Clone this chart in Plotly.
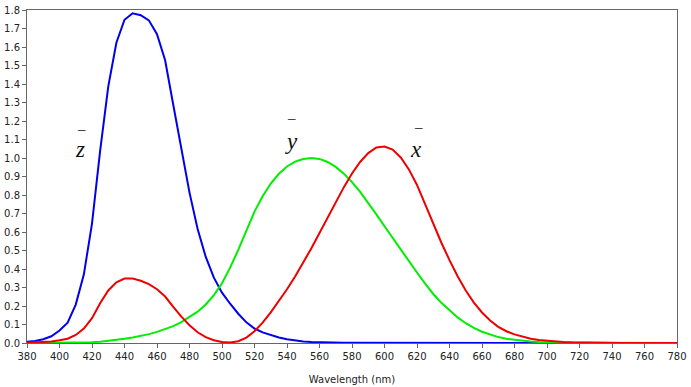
import plotly.graph_objects as go

wavelength = list(range(380, 785, 5))

x_bar = [0.001368, 0.002236, 0.004243, 0.007650, 0.014310, 0.023190, 0.043510, 0.077630,
         0.134380, 0.214770, 0.283900, 0.328500, 0.348280, 0.348060, 0.336200, 0.318700,
         0.290800, 0.251100, 0.195360, 0.142100, 0.095640, 0.057950, 0.032010, 0.014700,
         0.004900, 0.002400, 0.009300, 0.029100, 0.063270, 0.109600, 0.165500, 0.225750,
         0.290400, 0.359700, 0.433450, 0.512050, 0.594500, 0.678400, 0.762100, 0.842500,
         0.916300, 0.978600, 1.026300, 1.056700, 1.062200, 1.045600, 1.002600, 0.938400,
         0.854450, 0.751400, 0.642400, 0.541900, 0.447900, 0.360800, 0.283500, 0.218700,
         0.164900, 0.121200, 0.087400, 0.063600, 0.046770, 0.032900, 0.022700, 0.015840,
         0.011359, 0.008111, 0.005790, 0.004109, 0.002899, 0.002049, 0.001440, 0.001000,
         0.000690, 0.000476, 0.000332, 0.000235, 0.000166, 0.000117, 0.000083, 0.000059,
         0.000042]

y_bar = [0.000039, 0.000064, 0.000120, 0.000217, 0.000396, 0.000640, 0.001210, 0.002180,
         0.004000, 0.007300, 0.011600, 0.016840, 0.023000, 0.029800, 0.038000, 0.048000,
         0.060000, 0.073900, 0.090980, 0.112600, 0.139020, 0.169300, 0.208020, 0.258600,
         0.323000, 0.407300, 0.503000, 0.608200, 0.710000, 0.793200, 0.862000, 0.914850,
         0.954000, 0.980300, 0.994950, 1.000000, 0.995000, 0.978600, 0.952000, 0.915400,
         0.870000, 0.816300, 0.757000, 0.694900, 0.631000, 0.566800, 0.503000, 0.441200,
         0.381000, 0.321000, 0.265000, 0.217000, 0.175000, 0.138200, 0.107000, 0.081600,
         0.061000, 0.044580, 0.032000, 0.023200, 0.017000, 0.011920, 0.008210, 0.005723,
         0.004102, 0.002929, 0.002091, 0.001484, 0.001047, 0.000740, 0.000520, 0.000361,
         0.000249, 0.000172, 0.000120, 0.000085, 0.000060, 0.000042, 0.000030, 0.000021,
         0.000015]

z_bar = [0.006450, 0.010550, 0.020050, 0.036210, 0.067850, 0.110200, 0.207400, 0.371300,
         0.645600, 1.039050, 1.385600, 1.622960, 1.747060, 1.782600, 1.772110, 1.744100,
         1.669200, 1.528100, 1.287640, 1.041900, 0.812950, 0.616200, 0.465180, 0.353300,
         0.272000, 0.212300, 0.158200, 0.111700, 0.078250, 0.057250, 0.042160, 0.029840,
         0.020300, 0.013400, 0.008750, 0.005750, 0.003900, 0.002750, 0.002100, 0.001800,
         0.001650, 0.001400, 0.001100, 0.001000, 0.000800, 0.000600, 0.000340, 0.000240,
         0.000190, 0.000100, 0.000050, 0.000030, 0.000020, 0.000010, 0, 0,
         0, 0, 0, 0, 0, 0, 0, 0,
         0, 0, 0, 0, 0, 0, 0, 0,
         0, 0, 0, 0, 0, 0, 0, 0,
         0]

x_ticks = list(range(380, 781, 20))
y_ticks = [round(i * 0.1, 1) for i in range(19)]

labels = ["z", "y", "x"]
label_x = [412.5, 542.5, 619.5]
label_y = [1.045, 1.09, 1.045]
bar_x = [413.5, 542.5, 621.0]
bar_y = [1.155, 1.215, 1.165]

fig = go.Figure()
fig.add_trace(go.Scatter(x=wavelength, y=z_bar, mode="lines", line=dict(color="#0000ee", width=2), name="z"))
fig.add_trace(go.Scatter(x=wavelength, y=y_bar, mode="lines", line=dict(color="#00ee00", width=2), name="y"))
fig.add_trace(go.Scatter(x=wavelength, y=x_bar, mode="lines", line=dict(color="#ee0000", width=2), name="x"))

for t, lx, ly, bx, by in zip(labels, label_x, label_y, bar_x, bar_y):
    fig.add_annotation(x=lx, y=ly, text="<i>" + t + "</i>", showarrow=False, xanchor="center", yanchor="middle",
                       font=dict(family="Liberation Serif", size=23, color="#111111"))
    fig.add_annotation(x=bx, y=by, text="\u2013", showarrow=False, xanchor="center",
                       yanchor="middle", font=dict(family="Liberation Serif", size=15, color="#111111"))

tick_font = dict(family="DejaVu Sans", size=10, color="#222222")
fig.update_layout(
    width=691, height=387,
    margin=dict(l=27, r=9, t=4, b=43),
    paper_bgcolor="white", plot_bgcolor="white",
    showlegend=False,
    font=dict(family="DejaVu Sans", size=10, color="#222222"),
)
fig.update_xaxes(range=[380, 780], tickvals=x_ticks, ticktext=[str(v) for v in x_ticks],
                 showgrid=False, zeroline=False, showline=True, linecolor="#666666", linewidth=1,
                 mirror=True, ticks="outside", ticklen=4, tickcolor="#666666", tickfont=tick_font,
                 ticklabeloverflow="allow",
                 title=dict(text="Wavelength (nm)", font=dict(family="DejaVu Sans", size=10, color="#222222"), standoff=14))
fig.update_yaxes(range=[0, 1.8], tickvals=y_ticks, ticktext=[f"{v:.1f}" for v in y_ticks],
                 showgrid=False, zeroline=False, showline=True, linecolor="#666666", linewidth=1,
                 mirror=True, ticks="outside", ticklen=4, tickcolor="#666666", tickfont=tick_font,
                 ticklabeloverflow="allow")

fig.write_html("out.html", config={"displayModeBar": False},
               post_script="document.body.style.margin='0px';document.body.style.padding='0px';")
